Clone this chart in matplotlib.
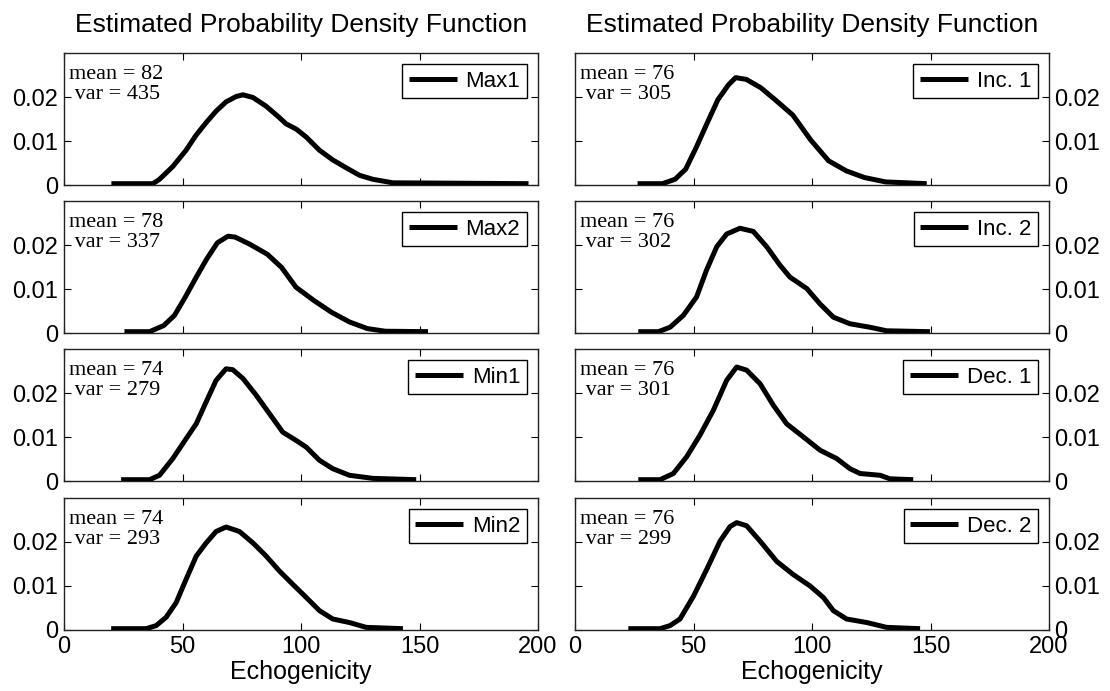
import numpy as np
import matplotlib
matplotlib.use("Agg")
import matplotlib.pyplot as plt

# estimated densities of echogenicity, one curve per region
labels_left = ["Max1", "Max2", "Min1", "Min2"]
labels_right = ["Inc. 1", "Inc. 2", "Dec. 1", "Dec. 2"]
means_left = [82, 78, 74, 74]
vars_left = [435, 337, 279, 293]
means_right = [76, 76, 76, 76]
vars_right = [305, 302, 301, 299]

max1_x = [20, 37.5, 40.3, 45.9, 51.5, 55.7, 60.0, 64.2, 68.4, 72.6, 75.5, 79.7, 85.3,
          90.9, 93.7, 98.0, 102.2, 107.8, 113.4, 119.1, 124.7, 130.3, 138.7, 196]
max1_y = [0.0003, 0.0003, 0.0013, 0.0042, 0.0079, 0.0113, 0.0142, 0.0168, 0.0189,
          0.0201, 0.0205, 0.0199, 0.0179, 0.0153, 0.0139, 0.0127, 0.0109, 0.0079,
          0.0057, 0.0039, 0.0022, 0.0013, 0.0005, 0.0003]

max2_x = [25.5, 36.1, 42.1, 46.6, 51.1, 55.7, 60.2, 64.7, 69.2, 72.2, 78.3, 85.8,
          91.8, 97.9, 105.4, 112.9, 120.5, 128.0, 135.6, 153.6]
max2_y = [0.0003, 0.0003, 0.0017, 0.0040, 0.0081, 0.0126, 0.0168, 0.0205, 0.0220,
          0.0218, 0.0202, 0.0179, 0.0149, 0.0104, 0.0074, 0.0047, 0.0025, 0.0010,
          0.0004, 0.0003]

min1_x = [24.1, 36.1, 40.3, 45.9, 51.5, 55.8, 60.0, 64.2, 68.4, 71.2, 75.5, 81.1,
          86.7, 92.3, 98.0, 102.2, 107.8, 113.4, 120.4, 130.3, 148.6]
min1_y = [0.0003, 0.0003, 0.0013, 0.0051, 0.0096, 0.0130, 0.0180, 0.0229, 0.0255,
          0.0253, 0.0233, 0.0195, 0.0153, 0.0111, 0.0092, 0.0077, 0.0047, 0.0028,
          0.0013, 0.0006, 0.0003]

min2_x = [19.9, 34.7, 38.9, 43.1, 47.3, 51.5, 55.8, 60.0, 64.2, 68.4, 74.0, 79.7,
          85.3, 90.9, 96.5, 102.2, 107.8, 113.4, 120.4, 127.5, 143.0]
min2_y = [0.0003, 0.0003, 0.0010, 0.0029, 0.0062, 0.0115, 0.0168, 0.0198, 0.0224,
          0.0234, 0.0224, 0.0198, 0.0168, 0.0134, 0.0104, 0.0074, 0.0044, 0.0025,
          0.0017, 0.0006, 0.0003]

inc1_x = [26.4, 36.9, 42.2, 46.7, 51.2, 55.7, 60.3, 64.8, 67.8, 72.3, 78.4, 84.4,
          91.9, 99.5, 107.0, 114.5, 122.1, 131.1, 148.4]
inc1_y = [0.0003, 0.0003, 0.0013, 0.0036, 0.0086, 0.0140, 0.0194, 0.0228, 0.0244,
          0.0240, 0.0221, 0.0194, 0.0159, 0.0102, 0.0055, 0.0032, 0.0017, 0.0007,
          0.0003]

inc2_x = [26.7, 35.2, 40.1, 45.7, 51.3, 55.5, 59.8, 64.0, 69.6, 75.2, 80.9, 86.5,
          90.7, 97.8, 103.4, 109.0, 116.0, 124.5, 131.5, 149.8]
inc2_y = [0.0003, 0.0003, 0.0013, 0.0040, 0.0082, 0.0143, 0.0196, 0.0225, 0.0238,
          0.0231, 0.0196, 0.0154, 0.0127, 0.0101, 0.0066, 0.0036, 0.0021, 0.0013,
          0.0005, 0.0003]

dec1_x = [26.7, 35.9, 41.5, 47.1, 52.7, 58.4, 64.0, 68.2, 72.4, 78.1, 83.7, 89.3,
          96.4, 103.4, 110.4, 116.0, 120.3, 128.7, 132.9, 142.7]
dec1_y = [0.0003, 0.0003, 0.0017, 0.0055, 0.0104, 0.0161, 0.0229, 0.0259, 0.0252,
          0.0221, 0.0172, 0.0130, 0.0100, 0.0070, 0.0051, 0.0028, 0.0017, 0.0013,
          0.0005, 0.0003]

dec2_x = [22.5, 35.9, 40.1, 44.3, 50.0, 55.6, 61.2, 65.4, 68.2, 72.4, 78.1, 85.1,
          92.1, 99.2, 104.8, 109.0, 114.6, 123.1, 131.5, 145.6]
dec2_y = [0.0003, 0.0003, 0.0010, 0.0025, 0.0077, 0.0138, 0.0202, 0.0235, 0.0244,
          0.0237, 0.0202, 0.0156, 0.0126, 0.0100, 0.0074, 0.0044, 0.0025, 0.0017,
          0.0006, 0.0003]

curves_left = [(max1_x, max1_y), (max2_x, max2_y), (min1_x, min1_y), (min2_x, min2_y)]
curves_right = [(inc1_x, inc1_y), (inc2_x, inc2_y), (dec1_x, dec1_y), (dec2_x, dec2_y)]

x_ticks = [0, 50, 100, 150, 200]
y_ticks = [0, 0.01, 0.02]
y_ticklabels = ["0", "0.01", "0.02"]

SANS = "Liberation Sans"
SERIF = "Liberation Serif"
plt.rcParams["font.family"] = SANS

W, H = 1110, 691
fig = plt.figure(figsize=(W / 100, H / 100), dpi=100)

col_x = [64, 575]
col_w = 474
row_top = [53, 201, 349, 498]
row_h = 132


def make_panel(left_px, top_px, right_side):
    ax = fig.add_axes([left_px / W, 1 - (top_px + row_h) / H, col_w / W, row_h / H])
    ax.set_xlim(0, 200)
    ax.set_ylim(0, 0.03)
    ax.set_xticks(x_ticks)
    ax.set_yticks(y_ticks)
    ax.set_yticklabels(y_ticklabels)
    ax.tick_params(direction="in", length=5, width=0.8, top=True, bottom=True,
                   left=True, right=True, labelsize=17, pad=4)
    if right_side:
        ax.tick_params(labelleft=False, labelright=True)
    for sp in ax.spines.values():
        sp.set_linewidth(1.0)
        sp.set_color("#222222")
    return ax


for col, (curves, labels, means, variances) in enumerate(
        [(curves_left, labels_left, means_left, vars_left),
         (curves_right, labels_right, means_right, vars_right)]):
    for row in range(4):
        ax = make_panel(col_x[col], row_top[row], col == 1)
        xs, ys = curves[row]
        ax.plot(xs, ys, color="black", lw=3.6, solid_joinstyle="round",
                solid_capstyle="butt", label=labels[row], zorder=6)
        leg = ax.legend(loc="upper right", fontsize=16, handlelength=2.15,
                        handletextpad=0.4, borderpad=0.3, borderaxespad=0.5,
                        fancybox=False, framealpha=1, edgecolor="black")
        leg.get_frame().set_linewidth(1.0)
        leg.set_zorder(7)
        ax.text(0.01, 0.91, "mean = %d\n var = %d" % (means[row], variances[row]),
                transform=ax.transAxes, ha="left", va="top", family=SERIF,
                fontsize=16, linespacing=1.1, zorder=7)
        if row == 0:
            ax.set_title("Estimated Probability Density Function", fontsize=19, pad=15)
        if row == 3:
            ax.set_xlabel("Echogenicity", fontsize=18, labelpad=2)
            ax.tick_params(labelbottom=True)
        else:
            ax.tick_params(labelbottom=False)

fig.savefig("out.png", dpi=100)
